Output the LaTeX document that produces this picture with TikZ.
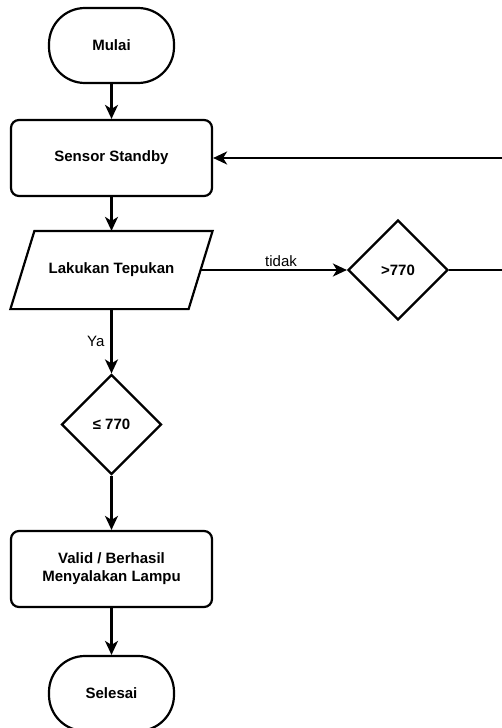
\documentclass[tikz,border=0pt]{standalone}
\usepackage{fontspec}
\setmainfont{Liberation Sans}
\usetikzlibrary{shapes.geometric,arrows.meta}
\begin{document}
\begin{tikzpicture}[x=1pt,y=-1pt,
  base/.style={line width=2.2pt, font=\fontsize{15}{18}\selectfont\bfseries, align=center, inner sep=0pt},
  term/.style={base, draw, rounded corners=36pt, minimum width=125pt, minimum height=75pt},
  proc/.style={base, draw, rounded corners=8pt, minimum width=201pt, minimum height=76pt},
  io/.style={base, minimum width=176pt, minimum height=76pt},
  dec/.style={base, draw, diamond, aspect=1, minimum width=100pt, minimum height=100pt},
  conn/.style={line width=2.2pt, -{Stealth[length=14pt,width=13pt,inset=4pt]}},
  lbl/.style={font=\fontsize{15}{17}\selectfont, inner sep=2pt}]
\useasboundingbox (0,0) rectangle (502,728);
\clip (0,0) rectangle (502,728);
\node[term] (mulai) at (111.5,45.5) {Mulai};
\node[proc] (ss) at (111.5,158) {Sensor Standby};
\node[io] (lt) at (111.5,270) {Lakukan Tepukan};
\draw[line width=2.2pt, line join=miter] ([xshift=12pt]lt.north west) -- ([xshift=12pt]lt.north east) -- ([xshift=-12pt]lt.south east) -- ([xshift=-12pt]lt.south west) -- cycle;
\node[dec] (gt) at (398,270) {>770};
\node[dec] (le) at (111.5,424.5) {≤ 770};
\node[proc] (valid) at (111.5,569) {Valid / Berhasil\\Menyalakan Lampu};
\node[term] (selesai) at (111.5,693.5) {Selesai};
\coordinate (r1) at (520,270);
\coordinate (r2) at (520,158);
\draw[conn] (mulai.south) -- (ss.north);
\draw[conn] (ss.south) -- (lt.north);
\draw[conn] (lt.east) -- node[lbl, pos=0.55, above] {tidak} (gt.west);
\draw[conn] (gt.east) -- (r1) -- (r2) -- (ss.east);
\draw[conn] (lt.south) -- node[lbl, pos=0.5, left, xshift=-4pt] {Ya} (le.north);
\draw[conn] (le.south) -- (valid.north);
\draw[conn] (valid.south) -- (selesai.north);
\end{tikzpicture}
\end{document}
